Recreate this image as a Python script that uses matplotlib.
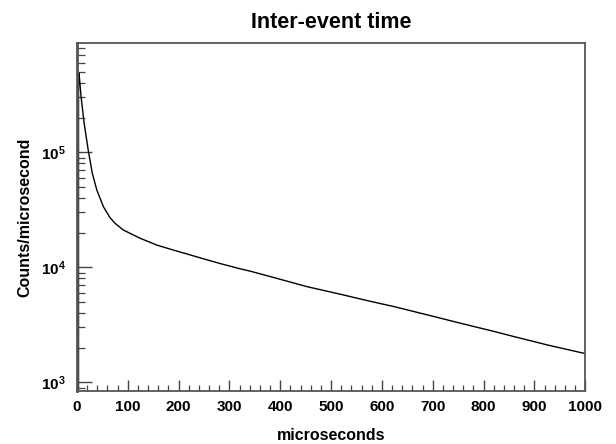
import numpy as np
import matplotlib.pyplot as plt
from matplotlib.ticker import FixedLocator, LogLocator, NullFormatter, FuncFormatter

plt.rcParams["font.family"] = ["Liberation Sans", "DejaVu Sans"]
plt.rcParams["mathtext.fontset"] = "custom"
plt.rcParams["mathtext.rm"] = "Liberation Sans"
plt.rcParams["mathtext.bf"] = "Liberation Sans:bold"

# values (time in microseconds, counts per microsecond)
t_us = [3, 3, 4, 8, 14, 22, 30, 39, 52, 65, 75, 91, 124, 157, 190, 223, 256,
        281, 321, 341, 387, 453, 519, 558, 578, 624, 690, 755, 795, 815, 861,
        926, 992, 1000]
counts = [800, 4.9e5, 4.85e5, 3.04e5, 1.79e5, 1.05e5, 6.6e4, 4.7e4, 3.36e4,
          2.7e4, 2.41e4, 2.11e4, 1.79e4, 1.56e4, 1.41e4, 1.28e4, 1.16e4,
          1.08e4, 9.7e3, 9.25e3, 8.15e3, 6.78e3, 5.82e3, 5.3e3, 5.05e3, 4.55e3,
          3.85e3, 3.26e3, 2.95e3, 2.81e3, 2.49e3, 2.11e3, 1.81e3, 1.78e3]

x_major = [0, 100, 200, 300, 400, 500, 600, 700, 800, 900, 1000]

fig = plt.figure(figsize=(6.16, 4.44), dpi=100)
ax = fig.add_axes([0.125, 0.12, 0.825, 0.783])

ax.plot(t_us, counts, color="black", lw=1.0)

ax.set_yscale("log")
ax.set_xlim(0, 1000)
ax.set_ylim(845, 8.9e5)

ax.xaxis.set_major_locator(FixedLocator(x_major))
ax.xaxis.set_minor_locator(FixedLocator(np.arange(0, 1001, 20)))
ax.yaxis.set_major_locator(LogLocator(base=10, numticks=10))
ax.yaxis.set_minor_locator(LogLocator(base=10, subs=np.arange(2, 10), numticks=20))
ax.yaxis.set_minor_formatter(NullFormatter())
ax.yaxis.set_major_formatter(FuncFormatter(
    lambda v, p: r"$\mathbf{10^{%d}}$" % round(np.log10(v))))

ax.tick_params(axis="both", which="both", direction="in", top=False, right=False,
               color="#444444")
ax.tick_params(axis="x", which="major", length=8, width=1.0, pad=7, labelsize=11)
ax.tick_params(axis="x", which="minor", length=4, width=0.9)
ax.tick_params(axis="y", which="major", length=11, width=1.0, pad=8, labelsize=11)
ax.tick_params(axis="y", which="minor", length=6, width=0.9)
for lab in ax.get_xticklabels():
    lab.set_fontweight("bold")

for sp in ax.spines.values():
    sp.set_color("#555555")
    sp.set_linewidth(1.3)
ax.spines["left"].set_linewidth(2.0)

ax.set_title("Inter-event time", fontsize=15.5, fontweight="bold", pad=11)
ax.set_xlabel("microseconds", fontsize=11.5, fontweight="bold", labelpad=10)
ax.set_ylabel("Counts/microsecond", fontsize=11.5, fontweight="bold", labelpad=6)

fig.savefig("out.png", dpi=100)
